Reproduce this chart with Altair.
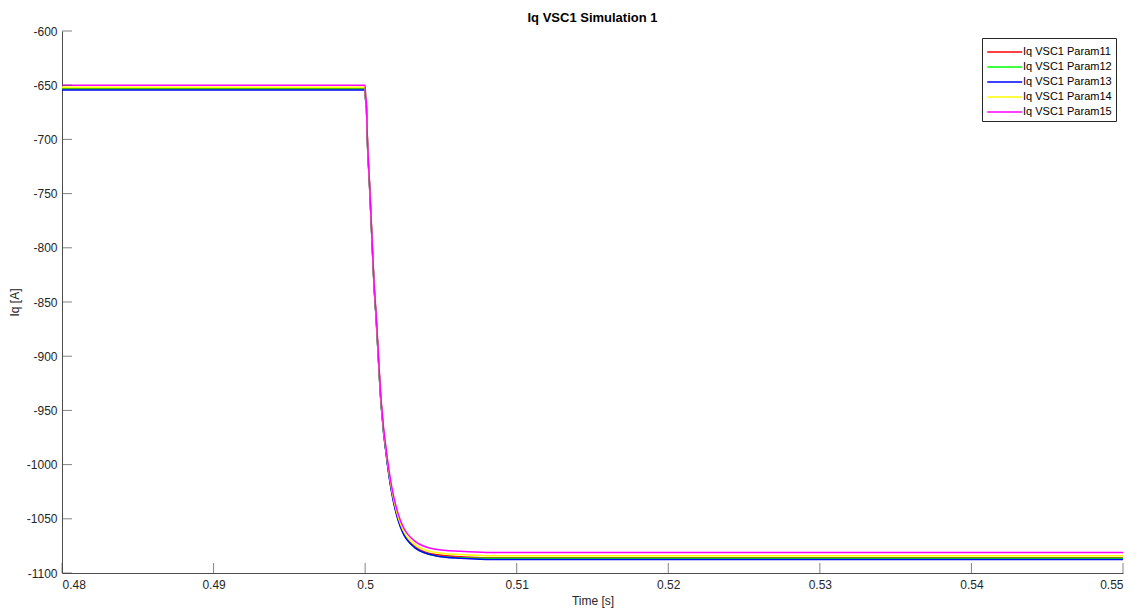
import altair as alt
import pandas as pd

# ---- data ----
time = [0.48, 0.49, 0.4999, 0.5, 0.50003, 0.50007, 0.50016, 0.50029, 0.50045, 0.50058,
        0.50072, 0.50105, 0.50153, 0.50219, 0.50331, 0.50463, 0.5063, 0.508, 0.51,
        0.52, 0.53, 0.54, 0.55]

param11 = [-653, -653, -653, -653, -663, -666, -705, -742, -792, -832,
           -863, -943, -1005, -1051, -1076, -1083, -1085, -1086, -1086,
           -1086, -1086, -1086, -1086]
param12 = [-653.5, -653.5, -653.5, -653.5, -663, -666, -705, -742, -792, -833,
           -864, -944, -1005, -1051, -1077, -1084, -1086, -1086.5, -1086.5,
           -1086.5, -1086.5, -1086.5, -1086.5]
param13 = [-654.5, -654.5, -654.5, -654.5, -664, -667, -706, -743, -793, -833,
           -864, -944, -1006, -1052, -1077, -1084, -1086.5, -1087.5, -1087.5,
           -1087.5, -1087.5, -1087.5, -1087.5]
param14 = [-652, -652, -652, -652, -662, -665, -704, -741, -791, -831,
           -862, -942, -1003, -1049, -1074, -1081, -1083, -1084, -1084,
           -1084, -1084, -1084, -1084]
param15 = [-650, -650, -650, -650, -661, -664, -703, -740, -790, -830,
           -860, -940, -1001, -1046, -1071, -1078, -1080, -1081, -1081,
           -1081, -1081, -1081, -1081]

series_names = ["Iq VSC1 Param11", "Iq VSC1 Param12", "Iq VSC1 Param13",
                "Iq VSC1 Param14", "Iq VSC1 Param15"]
series_values = [param11, param12, param13, param14, param15]
series_colors = ["#FF0000", "#00FF00", "#0000FF", "#FFFF00", "#FF00FF"]

x_ticks = [0.48, 0.49, 0.5, 0.51, 0.52, 0.53, 0.54, 0.55]
y_ticks = [-600, -650, -700, -750, -800, -850, -900, -950, -1000, -1050, -1100]

rows = []
for order, (name, vals) in enumerate(zip(series_names, series_values)):
    for t, v in zip(time, vals):
        rows.append({"Time": t, "Iq": v, "Series": name, "order": order})
df = pd.DataFrame(rows)

W, H = 1061, 542
axis_col = "#4d4d4d"
text_col = "#262626"

xscale = alt.Scale(domain=[0.48, 0.55], nice=False, zero=False)
yscale = alt.Scale(domain=[-1100, -600], nice=False, zero=False)

xaxis = alt.Axis(title="Time [s]", values=x_ticks, format=".2~f",
                 tickSize=0, labelPadding=6, titlePadding=5, grid=False)
yaxis = alt.Axis(title="Iq [A]", values=y_ticks, tickSize=0,
                 labelExpr="'' + datum.value",
                 labelPadding=5, titlePadding=5, grid=False)

lines = alt.Chart(df).mark_line(strokeWidth=1.5, interpolate="monotone").encode(
    x=alt.X("Time:Q", scale=xscale, axis=xaxis),
    y=alt.Y("Iq:Q", scale=yscale, axis=yaxis),
    color=alt.Color("Series:N",
                    scale=alt.Scale(domain=series_names, range=series_colors),
                    legend=alt.Legend(title=None, orient="none", legendX=920, legendY=7,
                                      symbolType="M-1,0H3", symbolSize=306,
                                      symbolStrokeWidth=1.6, labelFontSize=11,
                                      labelColor="#000", padding=4, rowPadding=-1,
                                      labelOffset=17, strokeColor="#262626",
                                      fillColor="white")),
    order=alt.Order("order:Q"),
    detail="Series:N",
)

yt = alt.Chart(pd.DataFrame({"Iq": y_ticks})).mark_tick(
    color=axis_col, thickness=1, size=10, orient="horizontal"
).encode(y=alt.Y("Iq:Q", scale=yscale, axis=yaxis), x=alt.value(5))

xt = alt.Chart(pd.DataFrame({"Time": x_ticks})).mark_tick(
    color=axis_col, thickness=1, size=10, orient="vertical"
).encode(x=alt.X("Time:Q", scale=xscale, axis=xaxis), y=alt.value(H - 5))

chart = alt.layer(lines, yt, xt).properties(
    width=W, height=H,
    title=alt.TitleParams("Iq VSC1 Simulation 1", fontSize=13, fontWeight="bold",
                          anchor="middle", offset=0, color="#000"),
    autosize=alt.AutoSizeParams(type="none"),
    padding={"left": 54, "top": 23, "right": 6, "bottom": 40},
).configure(font="Liberation Sans").configure_view(stroke=None).configure_axis(
    domainColor=axis_col, labelColor=text_col, titleColor=text_col,
    labelFontSize=12, titleFontSize=12, titleFontWeight="normal", labelFont="Liberation Sans",
)

chart.save("out.html", embed_options={"renderer": "svg", "actions": False})
